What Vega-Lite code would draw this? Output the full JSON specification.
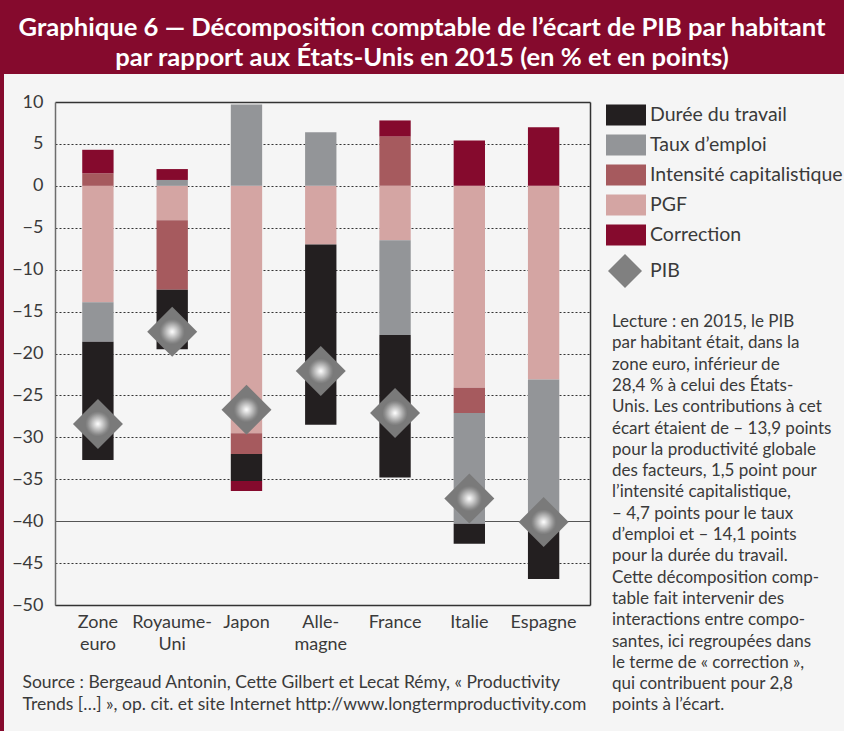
{
  "$schema": "https://vega.github.io/schema/vega-lite/v6.json",
  "background": "#f5f5f5",
  "padding": 0,
  "config": {"font": "Lato", "view": {"stroke": null}},
  "datasets": {
    "composantes": [
      {"pays": "Zone euro", "composante": "PGF", "valeur": -13.9, "rang": 1},
      {"pays": "Zone euro", "composante": "Intensité capitalistique", "valeur": 1.5, "rang": 2},
      {"pays": "Zone euro", "composante": "Taux d’emploi", "valeur": -4.7, "rang": 3},
      {"pays": "Zone euro", "composante": "Durée du travail", "valeur": -14.1, "rang": 4},
      {"pays": "Zone euro", "composante": "Correction", "valeur": 2.8, "rang": 5},
      {"pays": "Royaume-Uni", "composante": "PGF", "valeur": -4.1, "rang": 1},
      {"pays": "Royaume-Uni", "composante": "Intensité capitalistique", "valeur": -8.3, "rang": 2},
      {"pays": "Royaume-Uni", "composante": "Taux d’emploi", "valeur": 0.7, "rang": 3},
      {"pays": "Royaume-Uni", "composante": "Durée du travail", "valeur": -7.1, "rang": 4},
      {"pays": "Royaume-Uni", "composante": "Correction", "valeur": 1.3, "rang": 5},
      {"pays": "Japon", "composante": "PGF", "valeur": -29.5, "rang": 1},
      {"pays": "Japon", "composante": "Intensité capitalistique", "valeur": -2.5, "rang": 2},
      {"pays": "Japon", "composante": "Taux d’emploi", "valeur": 9.7, "rang": 3},
      {"pays": "Japon", "composante": "Durée du travail", "valeur": -3.2, "rang": 4},
      {"pays": "Japon", "composante": "Correction", "valeur": -1.2, "rang": 5},
      {"pays": "Allemagne", "composante": "PGF", "valeur": -7.0, "rang": 1},
      {"pays": "Allemagne", "composante": "Taux d’emploi", "valeur": 6.4, "rang": 3},
      {"pays": "Allemagne", "composante": "Durée du travail", "valeur": -21.5, "rang": 4},
      {"pays": "France", "composante": "PGF", "valeur": -6.5, "rang": 1},
      {"pays": "France", "composante": "Intensité capitalistique", "valeur": 5.9, "rang": 2},
      {"pays": "France", "composante": "Taux d’emploi", "valeur": -11.3, "rang": 3},
      {"pays": "France", "composante": "Durée du travail", "valeur": -17.0, "rang": 4},
      {"pays": "France", "composante": "Correction", "valeur": 1.9, "rang": 5},
      {"pays": "Italie", "composante": "PGF", "valeur": -24.1, "rang": 1},
      {"pays": "Italie", "composante": "Intensité capitalistique", "valeur": -3.0, "rang": 2},
      {"pays": "Italie", "composante": "Taux d’emploi", "valeur": -13.2, "rang": 3},
      {"pays": "Italie", "composante": "Durée du travail", "valeur": -2.4, "rang": 4},
      {"pays": "Italie", "composante": "Correction", "valeur": 5.4, "rang": 5},
      {"pays": "Espagne", "composante": "PGF", "valeur": -23.1, "rang": 1},
      {"pays": "Espagne", "composante": "Taux d’emploi", "valeur": -17.5, "rang": 3},
      {"pays": "Espagne", "composante": "Durée du travail", "valeur": -6.3, "rang": 4},
      {"pays": "Espagne", "composante": "Correction", "valeur": 7.0, "rang": 5}
    ],
    "pib": [
      {"pays": "Zone euro", "pib": -28.4},
      {"pays": "Royaume-Uni", "pib": -17.4},
      {"pays": "Japon", "pib": -26.7},
      {"pays": "Allemagne", "pib": -22.1},
      {"pays": "France", "pib": -27.1},
      {"pays": "Italie", "pib": -37.3},
      {"pays": "Espagne", "pib": -40.1}
    ]
  },
  "spacing": 0,
  "bounds": "flush",
  "vconcat": [
    {
      "width": 844,
      "height": 74,
      "view": {"fill": "#850a2d", "stroke": null},
      "data": {"values": [{"titre": ["Graphique 6 — Décomposition comptable de l’écart de PIB par habitant", "par rapport aux États-Unis en 2015 (en % et en points)"]}]},
      "mark": {"type": "text", "color": "#ffffff", "font": "Lato", "fontWeight": "bold", "fontSize": 25.6, "lineHeight": 30, "align": "center", "baseline": "middle", "dy": -9},
      "encoding": {"text": {"field": "titre", "type": "nominal"}}
    },
    {
      "spacing": 0,
      "bounds": "flush",
      "hconcat": [
        {
          "width": 4,
          "height": 657,
          "view": {"fill": "#850a2d", "stroke": null},
          "data": {"values": [{}]},
          "mark": {"type": "text"},
          "encoding": {"text": {"value": " "}}
        },
        {
          "width": 840,
          "height": 657,
          "view": {"stroke": null},
          "layer": [
            {
              "data": {"name": "composantes"},
              "mark": {"type": "bar"},
              "encoding": {
                "x": {
                  "field": "pays", "type": "nominal", "sort": null,
                  "scale": {"domain": ["Zone euro", "Royaume-Uni", "Japon", "Allemagne", "France", "Italie", "Espagne"], "range": [51, 586], "paddingInner": 0.578, "paddingOuter": 0.39, "align": 0.47},
                  "axis": {
                    "orient": "bottom", "offset": -126,
                    "labelExpr": "datum.value == 'Zone euro' ? ['Zone', 'euro'] : datum.value == 'Royaume-Uni' ? ['Royaume-', 'Uni'] : datum.value == 'Allemagne' ? ['Alle-', 'magne'] : datum.value",
                    "labelAngle": 0, "labelFontSize": 18, "labelColor": "#3a3a3a", "labelPadding": 8, "labelLineHeight": 22.5, "labelBaseline": "top",
                    "ticks": false, "tickSize": 0, "grid": false,
                    "domain": true, "domainColor": "#333333", "domainWidth": 1.5,
                    "title": ["Source : Bergeaud Antonin, Cette Gilbert et Lecat Rémy, « Productivity", "Trends […] », op. cit. et site Internet http://www.longtermproductivity.com"],
                    "titleX": 18, "titleY": 82, "titleAnchor": "start", "titleAlign": "left", "titleBaseline": "alphabetic",
                    "titleFontSize": 17.5, "titleFontWeight": "normal", "titleColor": "#3a3a3a", "titleLineHeight": 22.5, "titleLimit": 700
                  }
                },
                "y": {
                  "field": "valeur", "type": "quantitative", "stack": "zero",
                  "scale": {"domain": [-50, 10], "range": [531, 28], "nice": false, "zero": false},
                  "axis": {
                    "orient": "left", "offset": -51, "title": null,
                    "values": [-50, -45, -40, -35, -30, -25, -20, -15, -10, -5, 0, 5, 10],
                    "labelFontSize": 18, "labelColor": "#3a3a3a", "labelPadding": 12,
                    "ticks": false, "tickSize": 0,
                    "domain": true, "domainColor": "#6d6d6d", "domainWidth": 1.5,
                    "grid": true,
                    "gridColor": {"condition": {"test": "datum.value === -40", "value": "#555555"}, "value": "#333333"},
                    "gridDash": {"condition": {"test": "datum.value === -40 || datum.value === 10", "value": []}, "value": [2, 2]},
                    "gridWidth": {"condition": {"test": "datum.value === 10", "value": 1.5}, "value": 1}
                  }
                },
                "color": {
                  "field": "composante", "type": "nominal",
                  "scale": {
                    "domain": ["Durée du travail", "Taux d’emploi", "Intensité capitalistique", "PGF", "Correction", "PIB"],
                    "range": ["#231f20", "#939598", "#a65a5e", "#d4a5a3", "#850a2d", "#808080"]
                  },
                  "legend": {
                    "orient": "none", "legendX": 612, "legendY": 105, "direction": "vertical", "padding": 0,
                    "symbolSize": 400, "symbolStrokeWidth": 0, "rowPadding": 8,
                    "labelFontSize": 19.5, "labelColor": "#3a3a3a", "labelOffset": 18, "labelLimit": 300,
                    "title": ["Lecture : en 2015, le PIB", "par habitant était, dans la", "zone euro, inférieur de", "28,4 % à celui des États-", "Unis. Les contributions à cet", "écart étaient de – 13,9 points", "pour la productivité globale", "des facteurs, 1,5 point pour", "l’intensité capitalistique,", "– 4,7 points pour le taux", "d’emploi et – 14,1 points", "pour la durée du travail.", "Cette décomposition comp-", "table fait intervenir des", "interactions entre compo-", "santes, ici regroupées dans", "le terme de « correction »,", "qui contribuent pour 2,8", "points à l’écart."],
                    "titleOrient": "bottom", "titleAnchor": "start", "titleAlign": "left", "titleBaseline": "top",
                    "titleFontSize": 17, "titleFontWeight": "normal", "titleColor": "#3a3a3a", "titleLineHeight": 21.3, "titlePadding": 26, "titleLimit": 400,
                    "encode": {
                      "symbols": {
                        "update": {
                          "shape": [{"test": "datum.value === 'PIB'", "value": "M0.3,-1.7L2,0L0.3,1.7L-1.4,0Z"}, {"value": "M-1.6,-1.04H2.4V1.04H-1.6Z"}],
                          "fill": [{"test": "datum.value === 'PIB'", "value": {"gradient": "radial", "stops": [{"offset": 0, "color": "#ffffff"}, {"offset": 0.2, "color": "#c8c8c8"}, {"offset": 0.42, "color": "#8a8a8a"}, {"offset": 0.5, "color": "#7a7a7a"}]}}, {"scale": "color", "field": "value"}],
                          "stroke": {"value": "transparent"}
                        }
                      }
                    }
                  }
                },
                "order": {"field": "rang", "type": "quantitative"}
              }
            },
            {
              "data": {"name": "pib"},
              "mark": {
                "type": "point", "shape": "diamond", "size": 2500, "filled": true, "opacity": 1, "strokeWidth": 0,
                "fill": {"gradient": "radial", "stops": [{"offset": 0, "color": "#ffffff"}, {"offset": 0.2, "color": "#c8c8c8"}, {"offset": 0.42, "color": "#8a8a8a"}, {"offset": 0.5, "color": "#7a7a7a"}]}
              },
              "encoding": {
                "x": {"field": "pays", "type": "nominal", "sort": null},
                "y": {
                  "field": "pib", "type": "quantitative",
                  "axis": {"orient": "right", "offset": -254, "title": null, "labels": false, "ticks": false, "grid": false, "domain": true, "domainColor": "#333333", "domainWidth": 1.5}
                }
              }
            }
          ],
          "resolve": {"axis": {"y": "independent"}}
        }
      ]
    }
  ]
}
